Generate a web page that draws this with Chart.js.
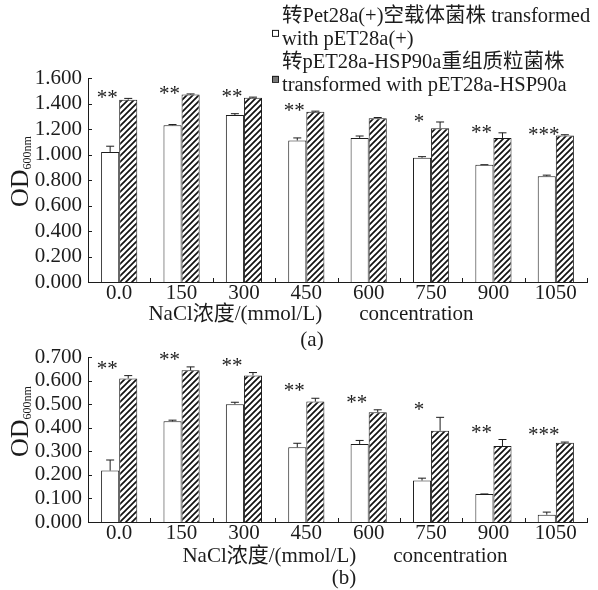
<!DOCTYPE html>
<html>
<head>
<meta charset="utf-8">
<script src="https://cdn.jsdelivr.net/npm/chart.js@4.4.1/dist/chart.umd.min.js"></script>
<style>
  body { margin: 0; background: #fff; }
  #wrap { position: relative; width: 598px; height: 590px; }
  #chartA { position: absolute; left: 0; top: 0; }
  #chartB { position: absolute; left: 0; top: 330px; }
</style>
</head>
<body>
<div id="wrap">
  <canvas id="chartA" width="598" height="350"></canvas>
  <canvas id="chartB" width="598" height="260"></canvas>
</div>
<script>
// NaCl concentrations (mmol/L)
const concentrations = ['0.0', '150', '300', '450', '600', '750', '900', '1050'];

// legend text, one array of lines per strain
const controlName = ['转Pet28a(+)空载体菌株 transformed', 'with pET28a(+)'];
const hspName = ['转pET28a-HSP90a重组质粒菌株', 'transformed with pET28a-HSP90a'];

// panel (a)
const controlA = [1.02, 1.23, 1.31, 1.11, 1.13, 0.975, 0.92, 0.83];
const controlErrA = [0.045, 0.005, 0.01, 0.02, 0.015, 0.008, 0.0, 0.008];
const hspA = [1.43, 1.47, 1.445, 1.335, 1.285, 1.205, 1.13, 1.15];
const hspErrA = [0.01, 0.005, 0.005, 0.005, 0.005, 0.05, 0.04, 0.005];
const starsA = ['**', '**', '**', '**', '', '*', '**', '***'];

// panel (b)
const controlB = [0.218, 0.427, 0.500, 0.317, 0.331, 0.176, 0.119, 0.031];
const controlErrB = [0.045, 0.005, 0.008, 0.017, 0.015, 0.01, 0.0, 0.011];
const hspB = [0.609, 0.644, 0.622, 0.511, 0.466, 0.387, 0.322, 0.336];
const hspErrB = [0.012, 0.014, 0.012, 0.014, 0.01, 0.057, 0.028, 0.003];
const starsB = ['**', '**', '**', '**', '**', '*', '**', '***'];

const yTicksA = { max: 1.6, step: 0.2 };
const yTicksB = { max: 0.7, step: 0.1 };

const SERIF = '"Liberation Serif", "Noto Sans CJK SC", serif';
const INK = '#1c1c1c';

function makeHatch(ctx) {
    const c = document.createElement('canvas');
    c.width = 6;
    c.height = 6;
    const g = c.getContext('2d');
    g.fillStyle = '#fff';
    g.fillRect(0, 0, 6, 6);
    g.strokeStyle = '#111';
    g.lineWidth = 1.7;
    g.beginPath();
    g.moveTo(-1, 7); g.lineTo(7, -1);
    g.moveTo(-1, 1); g.lineTo(1, -1);
    g.moveTo(5, 7); g.lineTo(7, 5);
    g.stroke();
    return ctx.createPattern(c, 'repeat');
}

// error bars, significance stars, inward ticks, titles, legend
const panelDeco = {
    id: 'panelDeco',
    afterDatasetsDraw(chart, args, opts) {
        const ctx = chart.ctx;
        const y = chart.scales.y;
        const x = chart.scales.x;
        const area = chart.chartArea;
        ctx.save();
        ctx.strokeStyle = INK;
        ctx.lineWidth = 1;

        // error bars (upper half only)
        chart.data.datasets.forEach((ds, i) => {
            chart.getDatasetMeta(i).data.forEach((bar, j) => {
                const top = y.getPixelForValue(ds.data[j] + ds.err[j]);
                ctx.beginPath();
                ctx.moveTo(bar.x, bar.y);
                ctx.lineTo(bar.x, top);
                ctx.moveTo(bar.x - 4, top);
                ctx.lineTo(bar.x + 4, top);
                ctx.stroke();
            });
        });

        // stars over the control bar, level with the HSP90a bar top
        const ctrl = chart.getDatasetMeta(0).data;
        const hsp = chart.data.datasets[1];
        ctx.fillStyle = INK;
        ctx.font = '21px ' + SERIF;
        ctx.textAlign = 'center';
        ctx.textBaseline = 'alphabetic';
        opts.stars.forEach((s, j) => {
            if (!s) return;
            const top = y.getPixelForValue(hsp.data[j] + hsp.err[j]);
            ctx.fillText(s, ctrl[j].x - 3, top + opts.starShift + 9);
        });

        // inward ticks
        ctx.beginPath();
        y.ticks.forEach(t => {
            const py = Math.round(y.getPixelForValue(t.value)) + 0.5;
            ctx.moveTo(area.left, py);
            ctx.lineTo(area.left + 4, py);
        });
        const n = chart.data.labels.length;
        for (let k = 1; k <= n; k++) {
            const px = Math.round(x.getPixelForValue(k - 0.5)) + 0.5;
            ctx.moveTo(px, area.bottom);
            ctx.lineTo(px, area.bottom - 4);
        }
        ctx.stroke();
        ctx.restore();
    },
    afterDraw(chart, args, opts) {
        const ctx = chart.ctx;
        ctx.save();
        ctx.fillStyle = INK;
        ctx.textBaseline = 'middle';

        // x title in two parts
        ctx.font = '21px ' + SERIF;
        const p1 = 'NaCl浓度/(mmol/L)';
        const p2 = 'concentration';
        const gap = 37;
        const w1 = ctx.measureText(p1).width;
        const w2 = ctx.measureText(p2).width;
        let left = opts.titleX - (w1 + gap + w2) / 2;
        ctx.textAlign = 'left';
        ctx.fillText(p1, left, opts.titleY);
        ctx.fillText(p2, left + w1 + gap, opts.titleY);

        ctx.textAlign = 'center';
        ctx.fillText(opts.panel, opts.panelX, opts.panelY);

        // y title OD600nm, rotated
        ctx.save();
        ctx.translate(28, opts.odY);
        ctx.rotate(-Math.PI / 2);
        ctx.textAlign = 'left';
        ctx.textBaseline = 'alphabetic';
        ctx.font = '26px ' + SERIF;
        ctx.fillText('OD', 0, 0);
        const wOD = ctx.measureText('OD').width;
        ctx.font = '12px ' + SERIF;
        ctx.fillText('600nm', wOD, 3);
        ctx.restore();

        // legend
        if (opts.legend) {
            ctx.font = '20.5px ' + SERIF;
            ctx.textAlign = 'left';
            const lx = 282;
            const lh = 22.7;
            opts.legend.forEach(item => {
                item.lines.forEach((ln, k) => ctx.fillText(ln, lx, item.y + k * lh));
                const my = item.y + 0.7 * lh;
                ctx.fillStyle = item.fill;
                ctx.fillRect(272, my - 3, 6, 6);
                ctx.strokeStyle = INK;
                ctx.lineWidth = 1;
                ctx.strokeRect(272.5, my - 2.5, 6, 6);
                ctx.fillStyle = INK;
            });
        }
        ctx.restore();
    }
};

function buildChart(canvasId, control, controlErr, hsp, hspErr, yTicks, deco, padTop) {
    const canvas = document.getElementById(canvasId);
    const ctx = canvas.getContext('2d');
    const hatch = makeHatch(ctx);
    const tickFont = { family: SERIF, size: 21, lineHeight: 1 };

    return new Chart(ctx, {
        type: 'bar',
        data: {
            labels: concentrations,
            datasets: [{
                label: controlName.join(' '),
                data: control,
                err: controlErr,
                backgroundColor: '#fff',
                borderColor: INK,
                borderWidth: 1
            }, {
                label: hspName.join(' '),
                data: hsp,
                err: hspErr,
                backgroundColor: hatch,
                borderColor: INK,
                borderWidth: 1
            }]
        },
        options: {
            responsive: false,
            animation: false,
            layout: { padding: { left: 0, right: 11, top: padTop, bottom: 0 } },
            datasets: { bar: { categoryPercentage: 0.58, barPercentage: 1.0 } },
            plugins: {
                legend: { display: false },
                tooltip: { enabled: false },
                panelDeco: deco
            },
            scales: {
                x: {
                    grid: { display: false, drawTicks: false },
                    border: { display: true, color: INK, width: 1 },
                    ticks: { color: INK, font: tickFont, padding: 1, maxRotation: 0, autoSkip: false },
                    afterFit: s => { s.height = 68; }
                },
                y: {
                    min: 0,
                    max: yTicks.max,
                    grid: { display: false, drawTicks: false },
                    border: { display: true, color: INK, width: 1 },
                    ticks: {
                        stepSize: yTicks.step,
                        autoSkip: false,
                        color: INK,
                        font: tickFont,
                        padding: 6,
                        callback: v => Number(v).toFixed(3)
                    },
                    afterFit: s => { s.width = 88; }
                }
            }
        },
        plugins: [panelDeco]
    });
}

buildChart('chartA', controlA, controlErrA, hspA, hspErrA, yTicksA, {
    stars: starsA, starShift: -3,
    titleX: 311, titleY: 314, panel: '(a)', panelX: 312, panelY: 340, odY: 207,
    legend: [
        { lines: controlName, y: 17, fill: '#fff' },
        { lines: hspName, y: 63, fill: '#777' }
    ]
}, 78);

buildChart('chartB', controlB, controlErrB, hspB, hspErrB, yTicksB, {
    stars: starsB, starShift: -10,
    titleX: 345, titleY: 226, panel: '(b)', panelX: 344, panelY: 248, odY: 127
}, 27);
</script>
</body>
</html>
